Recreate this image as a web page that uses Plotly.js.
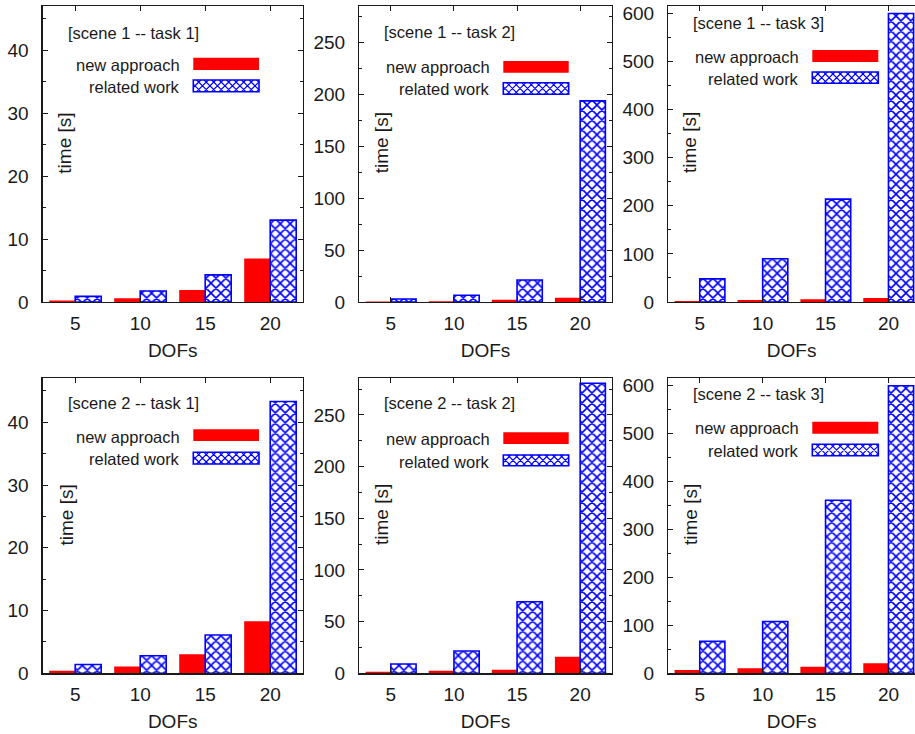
<!DOCTYPE html>
<html><head><meta charset="utf-8">
<script src="https://cdn.plot.ly/plotly-3.0.1.min.js"></script>
<style>html,body{margin:0;padding:0;background:#fff}#chart{width:915px;height:734px}</style>
</head><body><div id="chart"></div>
<script>
// ---------- data ----------
const DOFS = ['5', '10', '15', '20'];
const SERIES_NAMES = ['new approach', 'related work'];
const PANEL_LABELS = ['[scene 1 -- task 1]', '[scene 1 -- task 2]', '[scene 1 -- task 3]',
                      '[scene 2 -- task 1]', '[scene 2 -- task 2]', '[scene 2 -- task 3]'];
const Y_TITLE = 'time [s]';
const X_TITLE = 'DOFs';

const newS1T1 = [0.25, 0.6, 1.9, 6.9];
const relS1T1 = [0.9, 1.75, 4.3, 13.0];
const newS1T2 = [0.6, 0.8, 2.2, 4.2];
const relS1T2 = [2.9, 6.5, 21.2, 194];
const newS1T3 = [2, 4, 5.5, 8.3];
const relS1T3 = [48, 90, 214, 600];
const newS2T1 = [0.4, 1.1, 3.05, 8.3];
const relS2T1 = [1.4, 2.8, 6.1, 43.3];
const newS2T2 = [1.5, 2.5, 3.5, 16.1];
const relS2T2 = [9.0, 21.6, 69.3, 280.7];
const newS2T3 = [6.9, 10.4, 13.9, 20.9];
const relS2T3 = [67, 108, 361, 600];

const PANEL_DATA = [
  [newS1T1, relS1T1], [newS1T2, relS1T2], [newS1T3, relS1T3],
  [newS2T1, relS2T1], [newS2T2, relS2T2], [newS2T3, relS2T3]
];

// ---------- layout geometry (pixels) ----------
const W = 915, H = 734;
const COLS = [[42.7, 302.7], [359.3, 611.7], [668.3, 915]];
const ROWS = [[6, 302], [378.3, 673.3]];
const YMAX = [47, 285.5, 615.5];
const DT = [10, 50, 100];
const XMAX = [3.5, 3.5, -0.5 + (915 - 668.3) / 62.9];

const LEG = [
  {tx: 66,    ty: 33.5,  lr: 181.7, l1: 65,    l2: 86.7,  kx: [193.3, 259],   k1: [57.7, 70],   k2: [80, 91.7],     yt: [65, 143.7]},
  {tx: 381.7, ty: 31.7,  lr: 491.7, l1: 66.7,  l2: 89.3,  kx: [503.3, 568.7], k1: [61, 72.7],   k2: [82.7, 94.3],   yt: [381, 143.3]},
  {tx: 691,   ty: 23.3,  lr: 800.7, l1: 57.3,  l2: 79.3,  kx: [812.3, 878.3], k1: [50, 62],     k2: [72, 83.3],     yt: [690, 143]},
  {tx: 66,    ty: 403.3, lr: 181.7, l1: 436.7, l2: 459.3, kx: [193.3, 259],   k1: [429.3, 441], k2: [452.3, 464],   yt: [66, 515.5]},
  {tx: 381.7, ty: 403.3, lr: 491.7, l1: 439,   l2: 461.7, kx: [503.3, 568.7], k1: [432.3, 444], k2: [455, 465.7],   yt: [381, 515]},
  {tx: 691,   ty: 394.3, lr: 800.7, l1: 428.3, l2: 451,   kx: [812.3, 878.3], k1: [421.7, 433.7], k2: [444.3, 455.7], yt: [690, 515]}
];

const RED = '#ff0000', BLUE = '#0000ff', INK = '#1a1a1a';
const FONT = 'Liberation Sans, Arial, Helvetica, sans-serif';
const px = x => x / W;
const py = y => 1 - y / H;

const traces = [];
const layout = {
  width: W, height: H,
  margin: {l: 0, r: 0, t: 0, b: 0, pad: 0},
  paper_bgcolor: '#fff', plot_bgcolor: '#fff',
  showlegend: false,
  barmode: 'group', bargap: 0.2, bargroupgap: 0,
  font: {family: FONT, color: INK, size: 19},
  annotations: [], shapes: []
};

function hatchPath(x0, y0, x1, y1, p) {
  const h = y1 - y0;
  let d = '';
  for (let c = x0 - h; c <= x1; c += p) {
    const ts = Math.max(0, x0 - c), te = Math.min(h, x1 - c);
    if (te > ts) {
      d += 'M' + px(c + ts) + ',' + py(y1 - ts) + 'L' + px(c + te) + ',' + py(y1 - te);
      d += 'M' + px(c + ts) + ',' + py(y0 + ts) + 'L' + px(c + te) + ',' + py(y0 + te);
    }
  }
  return d;
}

for (let i = 0; i < 6; i++) {
  const row = Math.floor(i / 3), col = i % 3;
  const xa = 'x' + (i + 1), ya = 'y' + (i + 1);
  const xk = 'xaxis' + (i === 0 ? '' : i + 1), yk = 'yaxis' + (i === 0 ? '' : i + 1);
  const [nv, rv] = PANEL_DATA[i];

  traces.push({
    type: 'bar', x: DOFS, y: nv, name: SERIES_NAMES[0], xaxis: xa, yaxis: ya,
    marker: {color: RED, line: {width: 0}}, hoverinfo: 'skip'
  });
  traces.push({
    type: 'bar', x: DOFS, y: rv, name: SERIES_NAMES[1], xaxis: xa, yaxis: ya,
    marker: {color: '#ffffff', line: {color: BLUE, width: 1.6},
             pattern: {shape: 'x', fgcolor: BLUE, bgcolor: '#ffffff', size: 7, solidity: 0.4, fillmode: 'replace'}},
    hoverinfo: 'skip'
  });

  layout[xk] = {
    domain: [px(COLS[col][0]), px(COLS[col][1])],
    anchor: ya, type: 'category', range: [-0.5, XMAX[col]],
    ticks: 'inside', ticklen: 5, tickwidth: 1, tickcolor: INK,
    showline: true, linecolor: INK, linewidth: 1.3, mirror: 'ticks',
    showgrid: false, zeroline: false, automargin: false,
    tickfont: {family: FONT, size: 19, color: INK}, ticklabelstandoff: 4,
    title: {text: X_TITLE, font: {family: FONT, size: 19, color: INK}, standoff: 10}
  };
  layout[yk] = {
    domain: [py(ROWS[row][1]), py(ROWS[row][0])],
    anchor: xa, range: [0, YMAX[col]], dtick: DT[col], tick0: 0,
    ticks: 'inside', ticklen: 5, tickwidth: 1, tickcolor: INK,
    minor: {ticks: 'inside', dtick: DT[col] / 2, ticklen: 3, tickcolor: INK, showgrid: false},
    showline: true, linecolor: INK, linewidth: 1.3, mirror: col < 2 ? 'ticks' : false,
    showgrid: false, zeroline: false, automargin: false,
    tickfont: {family: FONT, size: 19, color: INK}, ticklabelstandoff: 9
  };

  const L = LEG[i];
  layout.annotations.push(
    {xref: 'paper', yref: 'paper', x: px(L.tx), y: py(L.ty), xanchor: 'left', yanchor: 'middle',
     text: PANEL_LABELS[i], showarrow: false, font: {family: FONT, size: 16.5, color: INK}},
    {xref: 'paper', yref: 'paper', x: px(L.lr), y: py(L.l1), xanchor: 'right', yanchor: 'middle',
     text: SERIES_NAMES[0], showarrow: false, font: {family: FONT, size: 16.5, color: INK}},
    {xref: 'paper', yref: 'paper', x: px(L.lr), y: py(L.l2), xanchor: 'right', yanchor: 'middle',
     text: SERIES_NAMES[1], showarrow: false, font: {family: FONT, size: 16.5, color: INK}},
    {xref: 'paper', yref: 'paper', x: px(L.yt[0]), y: py(L.yt[1]), xanchor: 'center', yanchor: 'middle',
     text: Y_TITLE, textangle: -90, showarrow: false, font: {family: FONT, size: 19, color: INK}}
  );
  layout.shapes.push(
    {type: 'rect', xref: 'paper', yref: 'paper', x0: px(L.kx[0]), x1: px(L.kx[1]), y0: py(L.k1[1]), y1: py(L.k1[0]),
     fillcolor: RED, line: {width: 0}},
    {type: 'rect', xref: 'paper', yref: 'paper', x0: px(L.kx[0]), x1: px(L.kx[1]), y0: py(L.k2[1]), y1: py(L.k2[0]),
     fillcolor: '#ffffff', line: {width: 0}},
    {type: 'path', xref: 'paper', yref: 'paper', path: hatchPath(L.kx[0], L.k2[0], L.kx[1], L.k2[1], 7.5),
     line: {color: BLUE, width: 1.2}},
    {type: 'rect', xref: 'paper', yref: 'paper', x0: px(L.kx[0]), x1: px(L.kx[1]), y0: py(L.k2[1]), y1: py(L.k2[0]),
     fillcolor: 'rgba(0,0,0,0)', line: {color: BLUE, width: 1.6}}
  );
}

Plotly.newPlot('chart', traces, layout, {displayModeBar: false, staticPlot: true});
</script>
</body></html>
